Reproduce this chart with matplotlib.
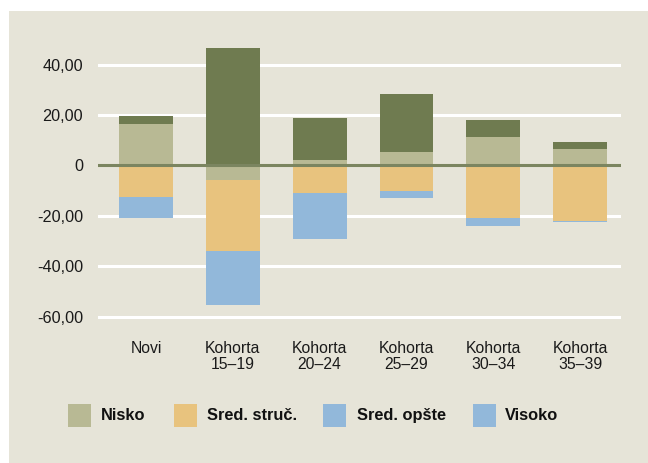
import matplotlib
matplotlib.use("Agg")
import matplotlib.pyplot as plt
from matplotlib.patches import Rectangle
import numpy as np

categories = ["Novi", "Kohorta\n15\u201319", "Kohorta\n20\u201324", "Kohorta\n25\u201329",
              "Kohorta\n30\u201334", "Kohorta\n35\u201339"]
nisko = [16.3, -5.8, 2.1, 5.3, 11.2, 6.4]
sred_struc = [-12.5, -28.1, -11.0, -10.2, -20.8, -22.0]
sred_opste = [-8.4, -21.3, -18.2, -2.7, -3.2, -0.4]
visoko = [3.2, 46.7, 16.9, 22.9, 6.7, 2.8]
yticks = [-60, -40, -20, 0, 20, 40]
ytick_labels = ["-60,00", "-40,00", "-20,00", "0", "20,00", "40,00"]
legend_labels = ["Nisko", "Sred. stru\u010d.", "Sred. op\u0161te", "Visoko"]

bg = "#e6e4d8"
c_nisko = "#b8b994"
c_struc = "#e8c37e"
c_opste = "#92b8da"
c_visoko = "#6f7b50"
legend_colors = [c_nisko, c_struc, c_opste, c_opste]

plt.rcParams["font.family"] = ["Liberation Sans", "DejaVu Sans"]

W, H = 648, 463
fig = plt.figure(figsize=(W / 100, H / 100), dpi=100)
fig.patch.set_facecolor("white")
fig.patches.append(Rectangle((9 / W, 0), 1 - 9 / W, 452 / H, transform=fig.transFigure,
                             facecolor=bg, edgecolor="none", zorder=-10))

ax = fig.add_axes([98 / W, 0.2942, (621 - 98) / W, 0.9147 - 0.2942])
ax.patch.set_alpha(0)

x = np.arange(len(categories))
pos_bottom = np.zeros(len(categories))
neg_bottom = np.zeros(len(categories))
for vals, col in [(nisko, c_nisko), (sred_struc, c_struc), (sred_opste, c_opste), (visoko, c_visoko)]:
    v = np.array(vals, dtype=float)
    bottom = np.where(v >= 0, pos_bottom, neg_bottom)
    ax.bar(x, v, bottom=bottom, width=0.62, color=col, edgecolor="none", zorder=3)
    pos_bottom += np.where(v >= 0, v, 0)
    neg_bottom += np.where(v < 0, v, 0)

ax.set_xlim(-0.553, 5.47)
ax.set_ylim(-64, 50)
ax.set_yticks(yticks)
ax.set_yticklabels(ytick_labels, fontsize=11.7, color="#1a1a1a")
ax.set_xticks(x)
ax.set_xticklabels(categories, fontsize=11.3, color="#1a1a1a", linespacing=1.1)
ax.tick_params(axis="y", length=0, pad=10.8)
ax.tick_params(axis="x", length=0, pad=10.2)
for y in yticks:
    if y != 0:
        ax.axhline(y, color="white", lw=2.2, zorder=1)
ax.axhline(0, color="#7b8560", lw=2.2, zorder=4)
for s in ax.spines.values():
    s.set_visible(False)

# legend, placed entry by entry
sq_x = [68, 174, 323, 473]
tx_x = [101, 207, 357, 505]
for sx, tx, lab, col in zip(sq_x, tx_x, legend_labels, legend_colors):
    fig.patches.append(Rectangle((sx / W, 1 - 427 / H), 23 / W, 23 / H, transform=fig.transFigure,
                                 facecolor=col, edgecolor="none"))
    fig.text(tx / W, 1 - 415.5 / H, lab, fontsize=11.8, fontweight="bold", color="#111111",
             ha="left", va="center")

fig.savefig("out.png", dpi=100, facecolor=fig.get_facecolor())
